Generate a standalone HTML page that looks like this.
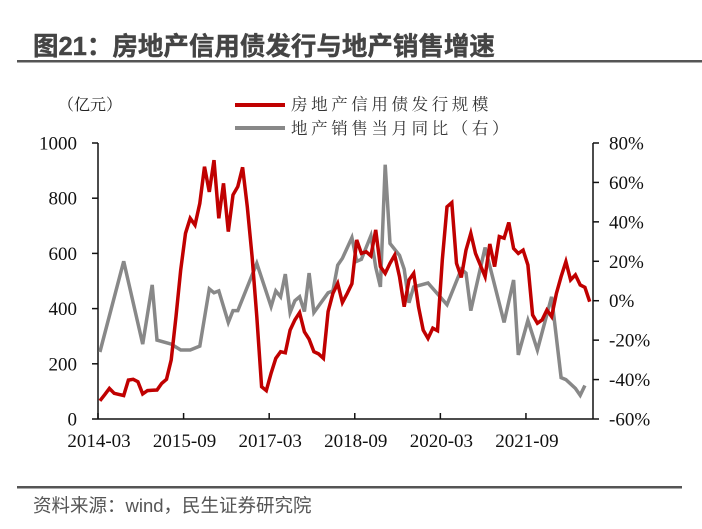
<!DOCTYPE html>
<html><head><meta charset="utf-8"><style>
body{margin:0;background:#fff;width:702px;height:529px;overflow:hidden}
svg{display:block}
</style></head><body>
<svg id="chart" width="702" height="529" viewBox="0 0 702 529" xmlns="http://www.w3.org/2000/svg">
<text x="33" y="55" font-family="'Liberation Sans','Noto Sans CJK SC',sans-serif" font-size="25.5" font-weight="bold" fill="#444" stroke="#444" stroke-width="0.4">图21：房地产信用债发行与地产销售增速</text>
<rect x="17" y="60" width="685" height="2.5" fill="#555"/>
<text x="58" y="110" font-family="'Liberation Serif','Noto Serif CJK SC',serif" font-size="16" fill="#222">（亿元）</text>
<g>
<line x1="235" y1="105" x2="285" y2="105" stroke="#c00000" stroke-width="4"/>
<text x="291" y="110" font-family="'Liberation Serif','Noto Serif CJK SC',serif" font-size="16.5" fill="#333" letter-spacing="3.6">房地产信用债发行规模</text>
<line x1="235" y1="128" x2="285" y2="128" stroke="#888" stroke-width="4"/>
<text x="291" y="134" font-family="'Liberation Serif','Noto Serif CJK SC',serif" font-size="16.5" fill="#333" letter-spacing="3.6">地产销售当月同比（右）</text>
</g>
<g id="axes"></g>
<g id="series"></g>
<rect x="17" y="486" width="665" height="2.5" fill="#555"/>
<text x="33" y="512" font-family="'Liberation Sans','Noto Sans CJK SC',sans-serif" font-size="18.5" fill="#555">资料来源：wind，民生证券研究院</text>
</svg>
<script>
const xTickLabels = ["2014-03","2015-09","2017-03","2018-09","2020-03","2021-09"];
const leftTicks = [0,200,400,600,800,1000];
const rightTicks = [-60,-40,-20,0,20,40,60,80];
// Bond issuance (100m yuan), monthly from 2014-03
const bondValues = [66,88,111,93,89,85,141,144,135,91,103,104,105,129,144,214,371,540,673,727,703,781,914,823,938,727,854,679,812,842,912,769,588,371,117,103,166,220,244,240,322,359,385,316,289,244,236,220,389,455,491,422,455,490,649,600,606,591,685,552,528,564,594,516,407,504,528,407,322,292,329,320,576,769,784,564,513,612,673,600,558,516,634,552,661,655,712,618,600,612,558,377,347,359,395,371,455,516,570,504,522,486,477,425];
// Sales YoY (%), month index from 2014-03
const salesMonths = [0,5,9,11,12,15,17,19,21,23,24,25,27,28,29,33,36,37,38,39,40,41,42,43,44,45,48,49,50,51,53,54,55,57,58,59,60,61,63,64,65,66,69,73,76,77,78,81,85,87,88,90,92,95,97,98,100,101,102];
const salesValues = [-26,20,-22,8,-20,-22,-25,-25,-23,6,4,5,-11,-5,-5,19,-3,5,2,13.5,-6,0,2,-5.5,14,-6,4,5,18,21.5,32,20,21,33,17,7,69,29,23,16,-1,7,9,-2,16,14,-5,27,-11,10.5,-27.5,-10,-25,2,-39,-40,-44.5,-48,-43];

const NS="http://www.w3.org/2000/svg";
const X0=98,X1=593,Y0=419,Y1=143,MW=4.755;
const xScale=m=>X0+(m+0.4)*MW;
const yL=v=>Y0-(v/1000)*(Y0-Y1);
const yR=v=>Y0-((v+60)/140)*(Y0-Y1);
function mk(tag,attrs,parent){const e=document.createElementNS(NS,tag);for(const k in attrs)e.setAttribute(k,attrs[k]);parent.appendChild(e);return e;}
const axes=document.getElementById('axes'),series=document.getElementById('series');
const font="'Liberation Serif',serif";
const fs=19;
let e;
e=mk('line',{x1:X0,y1:Y1,x2:X0,y2:Y0,stroke:'#111','stroke-width':1.5},axes);


e=mk('line',{x1:X1,y1:Y1,x2:X1,y2:Y0,stroke:'#111','stroke-width':1.5},axes);


e=mk('line',{x1:X0,y1:Y0,x2:X1,y2:Y0,stroke:'#111','stroke-width':1.5},axes);


leftTicks.forEach(v=>{
  const y=yL(v);
  e=mk('line',{x1:X0-6,y1:y,x2:X0,y2:y,stroke:'#111','stroke-width':1.5},axes);
  
  
  e=mk('text',{x:77,y:y+6.5,'text-anchor':'end','font-family':font,'font-size':fs,fill:'#111'},axes);
  e.textContent=v;
  
  
});
rightTicks.forEach(v=>{
  const y=yR(v);
  e=mk('line',{x1:X1,y1:y,x2:X1+6,y2:y,stroke:'#111','stroke-width':1.5},axes);
  
  
  e=mk('text',{x:609,y:y+6.5,'font-family':font,'font-size':fs,fill:'#111'},axes);
  e.textContent=v+'%';
  
  
});
xTickLabels.forEach((t,i)=>{
  const x=X0+i*18*MW;
  e=mk('line',{x1:x,y1:Y0-6,x2:x,y2:Y0,stroke:'#111','stroke-width':1.5},axes);
  
  
  e=mk('text',{x:x+1,y:447,'text-anchor':'middle','font-family':font,'font-size':fs,fill:'#111'},axes);
  e.textContent=t;
  
  
});
const bondPts=bondValues.map((v,i)=>xScale(i).toFixed(1)+','+yL(v).toFixed(1)).join(' ');
const salesPts=salesValues.map((v,i)=>xScale(salesMonths[i]).toFixed(1)+','+yR(v).toFixed(1)).join(' ');
e=mk('polyline',{points:salesPts,fill:'none',stroke:'#888','stroke-width':3.5,'stroke-linejoin':'miter'},series);


e=mk('polyline',{points:bondPts,fill:'none',stroke:'#c00000','stroke-width':3.5,'stroke-linejoin':'miter'},series);


</script>
</body></html>
